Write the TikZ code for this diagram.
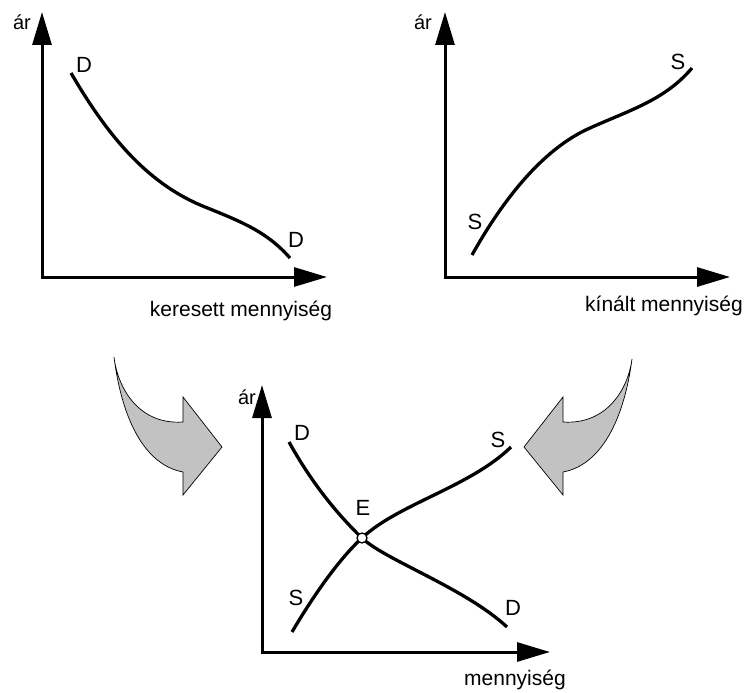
\documentclass[tikz,border=0pt]{standalone}
\usepackage{fontspec}
\setmainfont{Liberation Sans}
\usetikzlibrary{arrows.meta}
\definecolor{arrowgray}{RGB}{194,194,194}
\begin{document}
\begin{tikzpicture}[x=1pt,y=-1pt,
  axis/.style={line width=3pt, line join=miter,
    {Triangle[length=33pt,width=19pt]}-{Triangle[length=33pt,width=19pt]}},
  curve/.style={line width=3.3pt},
  lbl/.style={inner sep=0pt, font=\fontsize{22}{26}\selectfont},
  axlbl/.style={inner sep=0pt, font=\fontsize{21}{25}\selectfont, anchor=base},
  arlbl/.style={inner sep=0pt, font=\fontsize{20}{24}\selectfont},
  bigarrow/.style={fill=arrowgray, draw=black, line width=0.7pt, line join=miter},
  eqpt/.style={circle, draw=black, fill=white, line width=1.3pt, minimum size=10pt, inner sep=0pt}
]
\useasboundingbox (0,0) rectangle (748,693);

% ---------- panel 1: demand ----------
\coordinate (o1) at (42,277);
\coordinate (y1) at (42,12);
\coordinate (x1) at (327,277);
\draw[axis] (y1) -- (o1) -- (x1);
\coordinate (d1s) at (71,73);
\coordinate (d1m) at (205,207);
\coordinate (d1e) at (290,258);
\draw[curve] (d1s) .. controls (110,140) and (150,185) .. (d1m)
  .. controls (245,223) and (268,233) .. (d1e);
\node[arlbl] (ar1) at (22,22) {ár};
\node[lbl] (d1a) at (84,65) {D};
\node[lbl] (d1b) at (296,240) {D};
\node[axlbl] (q1) at (241,316) {keresett mennyiség};

% ---------- panel 2: supply ----------
\coordinate (o2) at (445,277);
\coordinate (y2) at (445,12);
\coordinate (x2) at (730,277);
\draw[axis] (y2) -- (o2) -- (x2);
\coordinate (s2s) at (472,255);
\coordinate (s2m) at (590,128);
\coordinate (s2e) at (692,68);
\draw[curve] (s2s) .. controls (500,205) and (540,150) .. (s2m)
  .. controls (630,110) and (665,100) .. (s2e);
\node[arlbl] (ar2) at (423,22) {ár};
\node[lbl] (s2a) at (475,222) {S};
\node[lbl] (s2b) at (678,62) {S};
\node[axlbl] (q2) at (664,311) {kínált mennyiség};

% ---------- panel 3: equilibrium ----------
\coordinate (o3) at (262,652);
\coordinate (y3) at (262,385);
\coordinate (x3) at (550,652);
\draw[axis] (y3) -- (o3) -- (x3);
\coordinate (E) at (362,538);
\coordinate (d3s) at (289,442);
\coordinate (d3e) at (507,627);
\coordinate (s3s) at (292,632);
\coordinate (s3e) at (511,447);
\draw[curve] (d3s) .. controls (310,480) and (335,512) .. (E)
  .. controls (385,560) and (465,588) .. (d3e);
\draw[curve] (s3s) .. controls (312,598) and (338,560) .. (E)
  .. controls (398,504) and (470,487) .. (s3e);
\node[eqpt] (eq) at (E) {};
\node[arlbl] (ar3) at (247,397) {ár};
\node[lbl] (d3a) at (302,433) {D};
\node[lbl] (d3b) at (513,608) {D};
\node[lbl] (s3a) at (296,598) {S};
\node[lbl] (s3b) at (498,440) {S};
\node[lbl] (e3) at (363,508) {E};
\node[axlbl] (q3) at (515,685) {mennyiség};

% ---------- gray curved arrows ----------
\draw[bigarrow] (114,357) .. controls (122,420) and (145,465) .. (183,472)
  -- (183,495) -- (222,447) -- (183,397) -- (183,422)
  .. controls (140,425) and (118,390) .. cycle;
\draw[bigarrow] (632,359) .. controls (624,420) and (601,465) .. (563,472)
  -- (563,495) -- (524,447) -- (563,397) -- (563,422)
  .. controls (606,425) and (628,390) .. cycle;
\end{tikzpicture}
\end{document}
